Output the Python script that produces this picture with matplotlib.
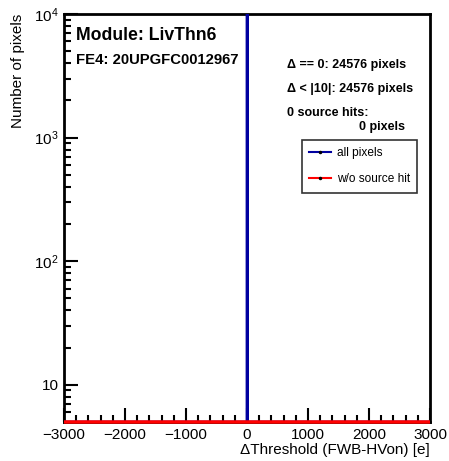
import numpy as np
import matplotlib
matplotlib.use('Agg')
import matplotlib.pyplot as plt
from matplotlib.ticker import LogLocator, NullFormatter, MultipleLocator, FuncFormatter
from matplotlib.lines import Line2D

plt.rcParams['font.family'] = ['Liberation Sans', 'DejaVu Sans']
plt.rcParams['mathtext.fontset'] = 'custom'
plt.rcParams['mathtext.rm'] = 'Liberation Sans'
plt.rcParams['mathtext.it'] = 'Liberation Sans'

# data
x_range = (-3000, 3000)
n_bins = 600
peak_bin_low = 0          # lower edge of the bin holding all pixels
n_all = 24576             # pixels with delta == 0
n_no_source = 0           # pixels without source hit
module_name = 'LivThn6'
fe_name = 'FE4: 20UPGFC0012967'
stats_lines = ['\u0394 == 0: 24576 pixels', '\u0394 < |10|: 24576 pixels', '0 source hits:']
stats_last = '0 pixels'
ymin, ymax = 5, 1e4

edges = np.linspace(x_range[0], x_range[1], n_bins + 1)
counts_all = np.zeros(n_bins)
counts_all[np.searchsorted(edges, peak_bin_low)] = n_all
counts_nosrc = np.full(n_bins, n_no_source, dtype=float)

fig = plt.figure(figsize=(4.49, 4.61), dpi=100)
ax = fig.add_axes([64/449, 1-422/461, (430-64)/449, (422-14)/461])

blue = '#0000a0'
red = '#ff0000'
# zero bins are drawn on the bottom of the frame like ROOT does
ax.stairs(np.maximum(counts_all, ymin), edges, baseline=ymin, color=blue, lw=2, zorder=3)
ax.stairs(np.maximum(counts_nosrc, ymin), edges, baseline=ymin, color=red, lw=2.5, zorder=4, clip_on=False)

ax.set_yscale('log')
ax.set_xlim(*x_range)
ax.set_ylim(ymin, ymax)

ax.xaxis.set_major_locator(MultipleLocator(1000))
ax.xaxis.set_minor_locator(MultipleLocator(200))
ax.xaxis.set_major_formatter(FuncFormatter(lambda v, p: f'{int(v)}'.replace('-', '\u2212')))
ax.yaxis.set_major_locator(LogLocator(base=10))
ax.yaxis.set_minor_locator(LogLocator(base=10, subs=np.arange(2, 10)))
ax.yaxis.set_minor_formatter(NullFormatter())
ax.yaxis.set_major_formatter(FuncFormatter(lambda v, p: '10' if abs(v - 10) < 1e-6 else r'$10^{%d}$' % round(np.log10(v))))

ax.tick_params(which='both', direction='in', top=False, right=False, labelsize=11, width=1.5, pad=4)
ax.tick_params(which='major', length=10)
ax.tick_params(which='minor', length=5)
for s in ax.spines.values():
    s.set_linewidth(2)

ax.set_xlabel('\u0394Threshold (FWB-HVon) [e]', fontsize=11, loc='right', labelpad=1)
ax.set_ylabel('Number of pixels', fontsize=11, loc='top', labelpad=6)

ax.text(12/366, 1-22/408, 'Module: ' + module_name, transform=ax.transAxes, fontsize=12.7,
        fontweight='bold', va='center')
ax.text(12/366, 1-46/408, fe_name, transform=ax.transAxes, fontsize=10.7, fontweight='bold', va='center')
for i, t in enumerate(stats_lines):
    ax.text(223/366, 1-(51 + 24*i)/408, t, transform=ax.transAxes, fontsize=9, fontweight='bold', va='center')
ax.text(341/366, 1-113/408, stats_last, transform=ax.transAxes, fontsize=9, fontweight='bold',
        va='center', ha='right')

handles = [Line2D([], [], color=blue, lw=1.5, marker='.', ms=3, mfc='k', mec='k'),
           Line2D([], [], color=red, lw=1.5, marker='.', ms=3, mfc='k', mec='k')]
leg = ax.legend(handles, ['all pixels', 'w/o source hit'], loc='upper left',
                bbox_to_anchor=(238/366, 1-126/408), borderaxespad=0, fontsize=8.6, frameon=True,
                fancybox=False, edgecolor='k', handlelength=1.8, labelspacing=1.2, borderpad=0.6,
                handletextpad=0.5)
leg.get_frame().set_linewidth(1.2)

fig.savefig('out.png', dpi=100)
